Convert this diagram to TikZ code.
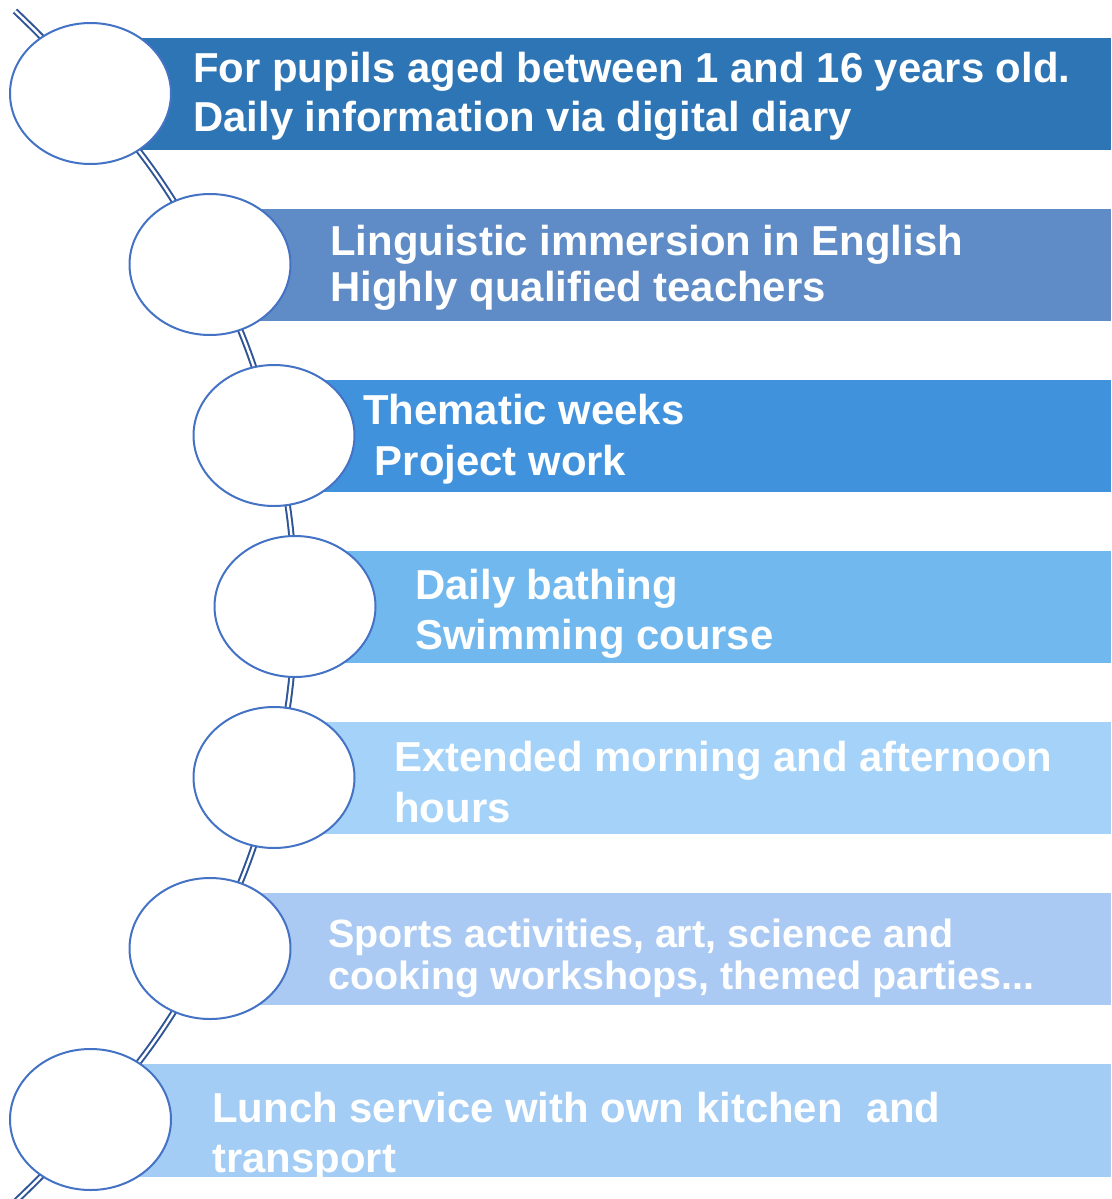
\documentclass[tikz,border=0pt]{standalone}
\usepackage{fontspec}
\setmainfont{Liberation Sans}
\usetikzlibrary{shapes.geometric,backgrounds}
\definecolor{bandA}{HTML}{2E75B6}
\definecolor{bandB}{HTML}{5F8CC6}
\definecolor{bandC}{HTML}{4192DC}
\definecolor{bandD}{HTML}{71B8EF}
\definecolor{bandE}{HTML}{A5D2F8}
\definecolor{bandF}{HTML}{ABCAF3}
\definecolor{bandG}{HTML}{A3CDF5}
\definecolor{circline}{HTML}{4472C4}
\definecolor{conncol}{HTML}{2F5597}
\begin{document}
\begin{tikzpicture}[x=0.75pt,y=-0.75pt,
  circ/.style={ellipse, draw=circline, line width=1.5pt, fill=white,
    minimum width=120.75pt, minimum height=105.75pt, inner sep=0pt},
  conn/.style={draw=conncol, line width=1.5pt, double=white, double distance=1.8pt},
  txt/.style={anchor=base west, text=white, inner sep=0pt,
    font=\fontsize{31.4}{37.5}\selectfont\bfseries},
  txts/.style={anchor=base west, text=white, inner sep=0pt,
    font=\fontsize{29.6}{31}\selectfont\bfseries}]
\useasboundingbox (0,0) rectangle (1111,1199);
% bands
\fill[bandA] (91,38) rectangle (1111,150);
\fill[bandB] (210,209) rectangle (1111,321);
\fill[bandC] (274,380) rectangle (1111,492);
\fill[bandD] (295,551) rectangle (1111,663);
\fill[bandE] (274,722) rectangle (1111,834);
\fill[bandF] (210,893) rectangle (1111,1005);
\fill[bandG] (91,1064) rectangle (1111,1177);
% circles
\node[circ] (c1) at (90.5,93.5) {};
\node[circ] (c2) at (210,264.5) {};
\node[circ] (c3) at (274,435.5) {};
\node[circ] (c4) at (295,606.5) {};
\node[circ] (c5) at (274,777.5) {};
\node[circ] (c6) at (210,948.5) {};
\node[circ] (c7) at (90.5,1119.5) {};
\coordinate (top) at (15,11);
\coordinate (bot) at (15,1202);
% connector
\begin{pgfonlayer}{background}
\clip (0,0) rectangle (1111,1199);
\draw[conn] (top) to[bend left=4] (c1.center);
\draw[conn] (c1.center) to[bend left=7] (c2.center);
\draw[conn] (c2.center) to[bend left=6] (c3.center);
\draw[conn] (c3.center) to[bend left=6] (c4.center);
\draw[conn] (c4.center) to[bend left=6] (c5.center);
\draw[conn] (c5.center) to[bend left=6] (c6.center);
\draw[conn] (c6.center) to[bend left=7] (c7.center);
\draw[conn] (c7.center) to[bend left=4] (bot);
\end{pgfonlayer}
% texts
\node[txt] (t1a) at (193,82) {For pupils aged between 1 and 16 years old.};
\node[txt] (t1b) at (193,131) {Daily information via digital diary};
\node[txt] (t2a) at (330,255) {Linguistic immersion in English};
\node[txt] (t2b) at (330,301) {Highly qualified teachers};
\node[txt] (t3a) at (363,424) {Thematic weeks};
\node[txt] (t3b) at (363,475) {\ Project work};
\node[txt] (t4a) at (415,599) {Daily bathing};
\node[txt] (t4b) at (415,649) {Swimming course};
\node[txt] (t5a) at (394,771) {Extended morning and afternoon};
\node[txt] (t5b) at (394,822) {hours};
\node[txts] (t6a) at (328,947) {Sports activities, art, science and};
\node[txts] (t6b) at (328,989) {cooking workshops, themed parties...};
\node[txt] (t7a) at (212,1122) {Lunch service with own kitchen\ \ and};
\node[txt] (t7b) at (212,1172) {transport};
\end{tikzpicture}
\end{document}
